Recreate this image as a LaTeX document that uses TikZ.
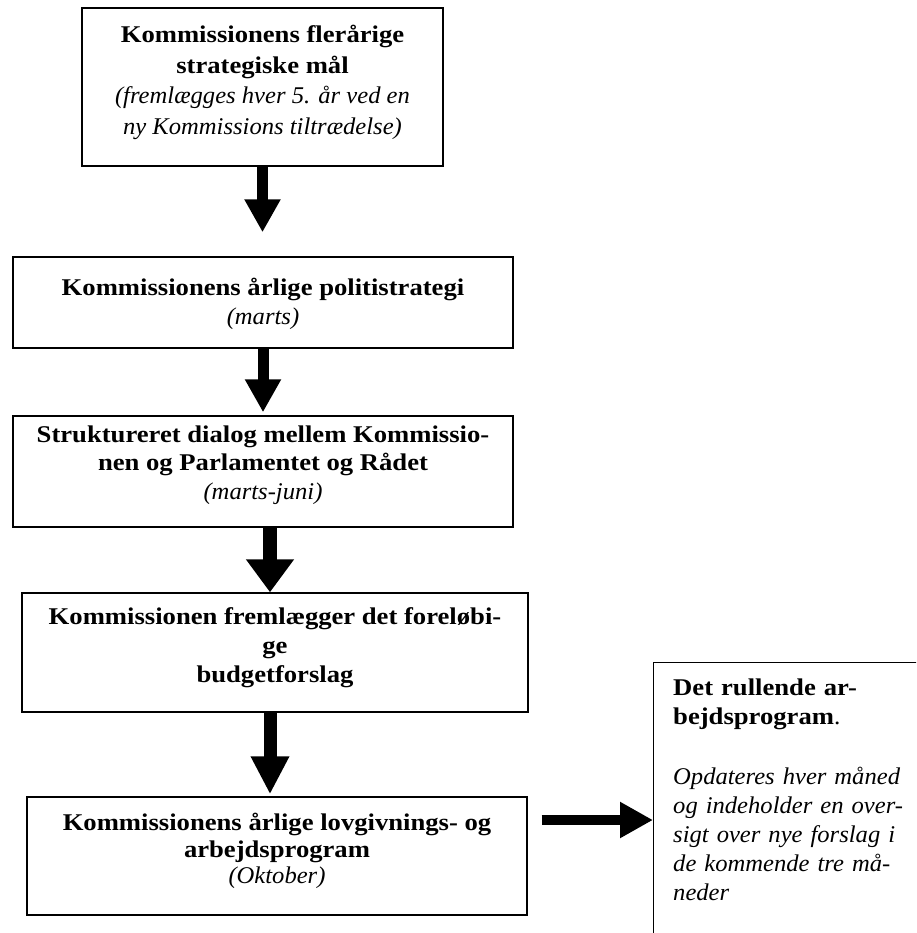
\documentclass[tikz,border=0pt]{standalone}
\usepackage{fontspec}
\setmainfont{Liberation Serif}[UprightFeatures={FakeStretch=1.05}, BoldFeatures={FakeStretch=1.11}, ItalicFeatures={FakeStretch=1.025}]
\usetikzlibrary{arrows.meta,positioning,calc}

\begin{document}
\begin{tikzpicture}[x=1pt, y=-1pt,
    box/.style={draw, rectangle, line width=1.4pt, inner sep=0pt},
    txt/.style={align=center, inner sep=0pt, font=\fontsize{24}{28.8}\selectfont},
    sidetxt/.style={align=left, inner sep=0pt, text width=245pt, font=\fontsize{24}{29}\selectfont},
    bigarrow/.style={line width=11pt, -{Triangle[width=34pt,length=33pt]}},
]
\clip (0,0) rectangle (916,933);

% Boxes
\node[box, minimum width=361pt, minimum height=158pt] (b1) at (262.5, 87) {};
\node[box, minimum width=500pt, minimum height=91pt] (b2) at (263, 302.5) {};
\node[box, minimum width=500pt, minimum height=111pt] (b3) at (263, 471.5) {};
\node[box, minimum width=506pt, minimum height=119pt] (b4) at (275, 652.5) {};
\node[box, minimum width=500pt, minimum height=118pt] (b5) at (277, 856) {};
\node[box, minimum width=290pt, minimum height=300pt, anchor=north west] (b6) at (653, 662) {};

% Texts
\node[txt, font=\fontsize{24}{30.5}\selectfont, below=18pt of b1.north] (t1) {\textbf{Kommissionens flerårige}\\\textbf{strategiske mål}\\\textit{(fremlægges hver 5. år ved en}\\\textit{ny Kommissions tiltrædelse)}};
\node[txt, below=22pt of b2.north] (t2) {\textbf{Kommissionens årlige politistrategi}\\\textit{(marts)}};
\node[txt, below=10pt of b3.north] (t3) {\textbf{Struktureret dialog mellem Kommissio-}\\\textbf{nen og Parlamentet og Rådet}\\\textit{(marts-juni)}};
\node[txt, below=15pt of b4.north] (t4) {\textbf{Kommissionen fremlægger det foreløbi-}\\\textbf{ge}\\\textbf{budgetforslag}};
\node[txt, font=\fontsize{24}{26.5}\selectfont, below=17pt of b5.north] (t5) {\textbf{Kommissionens årlige lovgivnings- og}\\\textbf{arbejdsprogram}\\\textit{(Oktober)}};
\node[sidetxt, anchor=north west] (t6) at ($(b6.north west)+(20,17)$) {\textbf{Det rullende ar-}\\\textbf{bejdsprogram}.\\[31pt]\textit{Opdateres hver måned}\\\textit{og indeholder en over-}\\\textit{sigt over nye forslag i}\\\textit{de kommende tre må-}\\\textit{neder}};

% Arrows
\draw[bigarrow, shorten >=24pt] (b1.south) -- (b1.south |- b2.north);
\draw[bigarrow, shorten >=3pt] (b2.south) -- (b2.south |- b3.north);
\draw[bigarrow, line width=14pt, -{Triangle[width=46pt,length=33pt]}] ([xshift=7pt]b3.south) -- ([xshift=7pt]b3.south |- b4.north);
\draw[bigarrow, line width=13pt, -{Triangle[width=36pt,length=38pt]}, shorten >=2pt] ([xshift=-5pt]b4.south) -- ([xshift=-5pt]b4.south |- b5.north);
\draw[bigarrow, line width=10pt, shorten <=14pt] ([yshift=36pt]b5.east) -- ([yshift=36pt]b5.east -| b6.west);

\end{tikzpicture}
\end{document}
